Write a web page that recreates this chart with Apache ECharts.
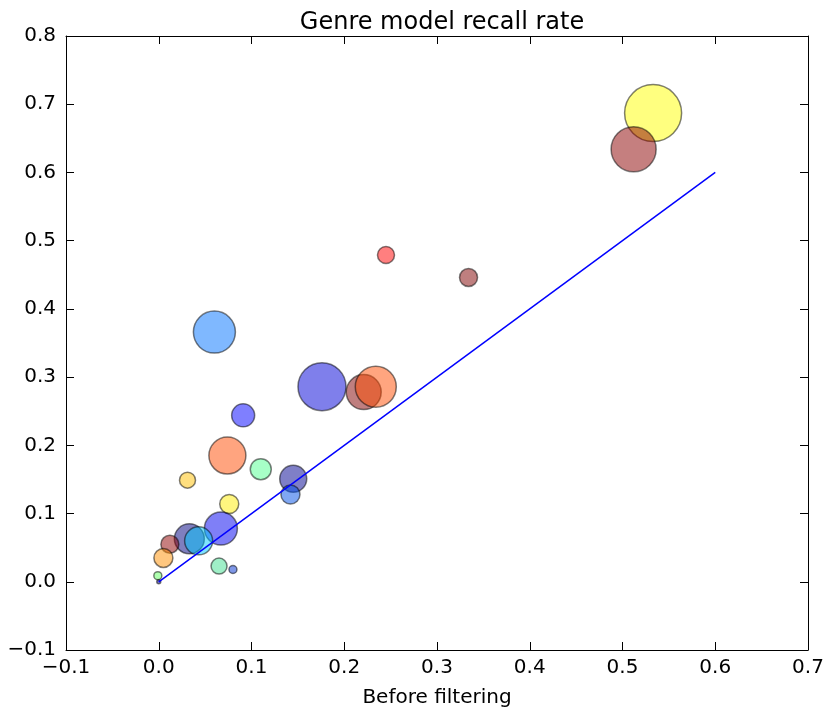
<!DOCTYPE html>
<html>
<head>
<meta charset="utf-8">
<title>Genre model recall rate</title>
<script src="https://cdn.jsdelivr.net/npm/echarts@6/dist/echarts.min.js"></script>
<style>
  html, body { margin: 0; padding: 0; background: #fff; }
  #main { width: 838px; height: 713px; }
</style>
</head>
<body>
<div id="main"></div>
<script>
// recall before filtering (x), after filtering (y), bubble diameter, colour
var beforeVals = [0.533, 0.512, 0.245, 0.334, 0.060, 0.176, 0.221, 0.234, 0.091, 0.074,
                  0.110, 0.031, 0.145, 0.142, 0.076, 0.067, 0.033, 0.043, 0.012, 0.005,
                  0.065, 0.080, -0.001, 0.000];
var afterVals  = [0.687, 0.634, 0.479, 0.446, 0.366, 0.286, 0.278, 0.286, 0.244, 0.185,
                  0.165, 0.149, 0.151, 0.128, 0.114, 0.078, 0.063, 0.060, 0.055, 0.035,
                  0.023, 0.018, 0.009, 0.000];
var bubbleSizes = [57, 45, 17, 18, 42, 48, 35, 41, 23, 37,
                   21, 16, 27, 19, 19, 33, 30, 28, 18, 19,
                   16, 8, 8, 4];
var bubbleColors = ['#ffff00', '#8b0000', '#ff0000', '#800000', '#0072ff', '#0000d8', '#800000', '#ff4c00', '#0000ff', '#ff4a00',
                    '#50ff90', '#ffc000', '#000090', '#0050e8', '#ffee00', '#0000f0', '#000080', '#00c8ff', '#900000', '#ff9000',
                    '#40e090', '#0030d0', '#60ff60', '#000080'];
var refLine = [[0, 0], [0.6, 0.6]];

var xTicks = [-0.1, 0.0, 0.1, 0.2, 0.3, 0.4, 0.5, 0.6, 0.7];
var yTicks = [-0.1, 0.0, 0.1, 0.2, 0.3, 0.4, 0.5, 0.6, 0.7, 0.8];

var fontFam = 'DejaVu Sans';
function fmt(v) { return v.toFixed(1).replace('-', '\u2212'); }

var bubbles = beforeVals.map(function (x, i) {
    return {
        value: [x, afterVals[i], bubbleSizes[i]],
        itemStyle: { color: bubbleColors[i] }
    };
});

function axisBase(extra) {
    var a = {
        type: 'value',
        axisLine: { show: true, onZero: false, lineStyle: { color: '#000', width: 1 } },
        axisTick: { show: true, inside: true, length: 8, lineStyle: { color: '#000' } },
        splitLine: { show: false },
        axisLabel: { show: false }
    };
    for (var k in extra) a[k] = extra[k];
    return a;
}

var chart = echarts.init(document.getElementById('main'));
chart.setOption({
    animation: false,
    backgroundColor: '#fff',
    title: {
        text: 'Genre model recall rate',
        left: 437, top: 6, textAlign: 'center',
        textStyle: { fontFamily: fontFam, fontSize: 24, fontWeight: 'normal', color: '#000' }
    },
    grid: { left: 66, right: 30, top: 36, bottom: 62 },
    xAxis: [
        axisBase({
            min: -0.1, max: 0.7, interval: 0.1, position: 'bottom',
            name: 'Before filtering', nameLocation: 'middle', nameGap: 38,
            nameTextStyle: { fontFamily: fontFam, fontSize: 20, color: '#000' },
            axisLabel: { show: true, margin: 8, fontFamily: fontFam, fontSize: 20, color: '#000', formatter: fmt }
        }),
        axisBase({ min: -0.1, max: 0.7, interval: 0.1, position: 'top' })
    ],
    yAxis: [
        axisBase({
            min: -0.1, max: 0.8, interval: 0.1, position: 'left',
            axisLabel: { show: true, margin: 10, fontFamily: fontFam, fontSize: 20, color: '#000', formatter: fmt }
        }),
        axisBase({ min: -0.1, max: 0.8, interval: 0.1, position: 'right' })
    ],
    series: [
        {
            type: 'scatter',
            data: bubbles,
            symbolSize: function (v) { return v[2]; },
            itemStyle: { opacity: 0.5, borderColor: '#000', borderWidth: 1.5 },
            z: 2
        },
        {
            type: 'line',
            data: refLine,
            symbol: 'none',
            lineStyle: { color: '#0000ff', width: 1.5 },
            z: 3
        }
    ]
});
</script>
</body>
</html>
